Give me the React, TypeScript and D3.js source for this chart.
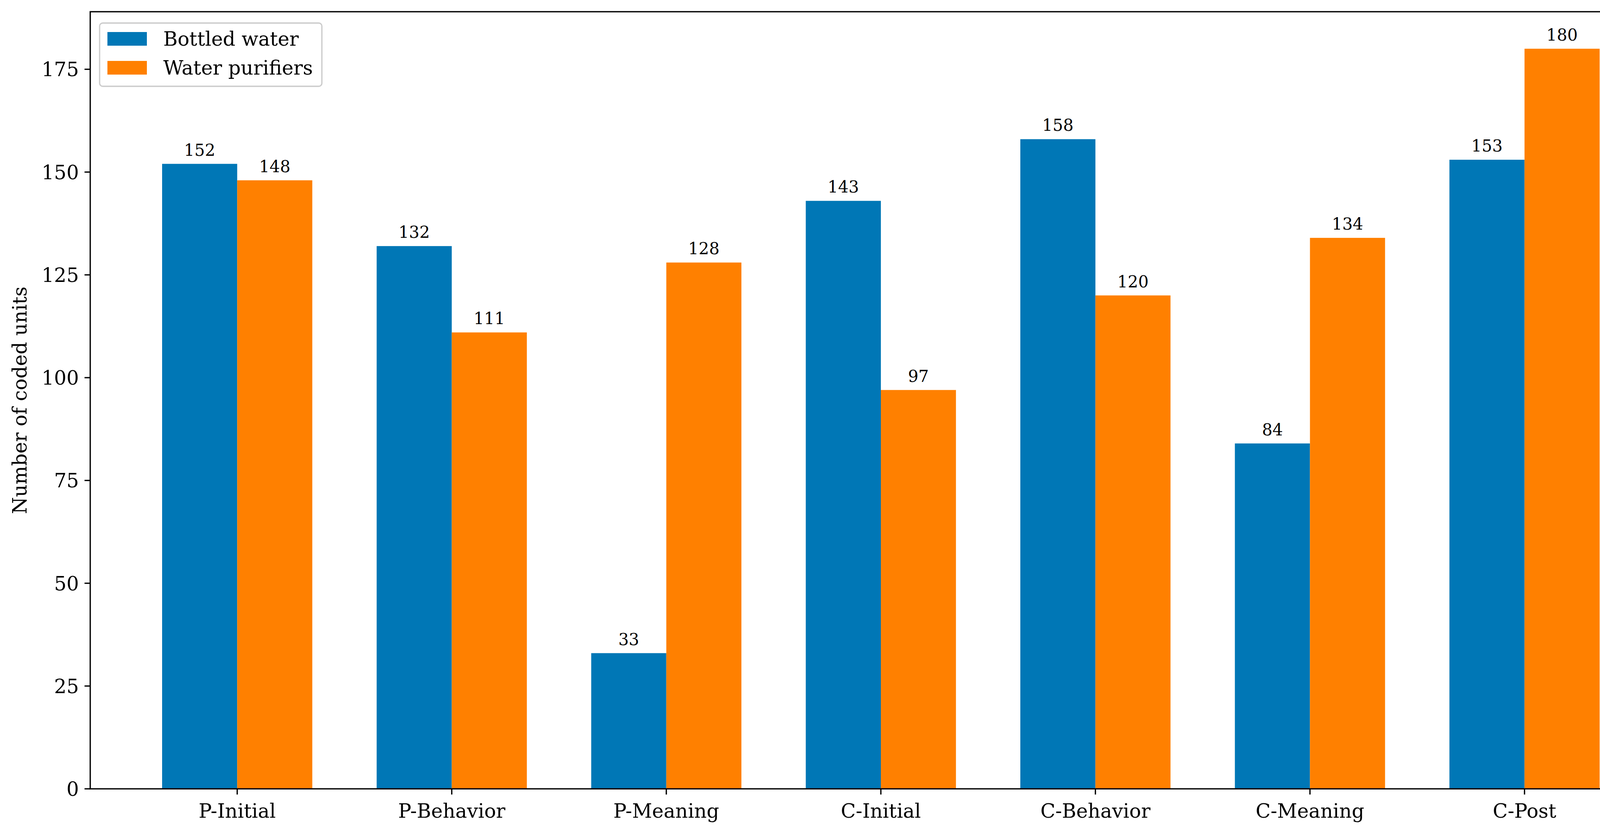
import React from 'react';
import * as d3 from 'd3';

const categories = ['P-Initial', 'P-Behavior', 'P-Meaning', 'C-Initial', 'C-Behavior', 'C-Meaning', 'C-Post'];
const bottledWater = [152, 132, 33, 143, 158, 84, 153];
const waterPurifiers = [148, 111, 128, 97, 120, 134, 180];
const yTicks = [0, 25, 50, 75, 100, 125, 150, 175];
const seriesNames = ['Bottled water', 'Water purifiers'];

const W = 4302;
const H = 2128;
const margin = { left: 231, right: 4279, top: 30, bottom: 2020 };
const BLUE = '#0077b6';
const ORANGE = '#ff8000';
const FONT = '"DejaVu Serif", serif';
const barW = 0.35;

const App: React.FC = () => {
  const x = d3.scaleLinear().domain([-0.685, 6.685]).range([margin.left, margin.right]);
  const y = d3.scaleLinear().domain([0, 189]).range([margin.bottom, margin.top]);
  const series = [
    { name: seriesNames[0], values: bottledWater, color: BLUE, offset: -barW / 2 },
    { name: seriesNames[1], values: waterPurifiers, color: ORANGE, offset: barW / 2 },
  ];
  const pxW = x(barW) - x(0);

  return (
    <svg width={W} height={H} style={{ position: 'absolute', left: 0, top: 0, background: '#fff' }}>
      <rect x={0} y={0} width={W} height={H} fill="#fff" />
      {series.map((s) =>
        s.values.map((v, i) => {
          const cx = x(i + s.offset);
          return (
            <g key={s.name + i}>
              <rect x={cx - pxW / 2} y={y(v)} width={pxW} height={y(0) - y(v)} fill={s.color} />
              <text x={cx} y={y(v) - 21} textAnchor="middle" fontFamily={FONT} fontSize={42} fill="#000">
                {v}
              </text>
            </g>
          );
        })
      )}
      {/* y axis ticks */}
      {yTicks.map((t) => (
        <g key={'y' + t}>
          <line x1={margin.left - 14.6} x2={margin.left} y1={y(t)} y2={y(t)} stroke="#000" strokeWidth={3.3} />
          <text x={margin.left - 29} y={y(t)} dy="0.36em" textAnchor="end" fontFamily={FONT} fontSize={50}>
            {t}
          </text>
        </g>
      ))}
      {/* x axis ticks */}
      {categories.map((c, i) => (
        <g key={c}>
          <line x1={x(i)} x2={x(i)} y1={margin.bottom} y2={margin.bottom + 14.6} stroke="#000" strokeWidth={3.3} />
          <text x={x(i)} y={2094} textAnchor="middle" fontFamily={FONT} fontSize={50}>
            {c}
          </text>
        </g>
      ))}
      <text
        transform={`translate(68, ${(margin.top + margin.bottom) / 2}) rotate(-90)`}
        textAnchor="middle"
        fontFamily={FONT}
        fontSize={50}
      >
        Number of coded units
      </text>
      <rect
        x={margin.left}
        y={margin.top}
        width={margin.right - margin.left}
        height={margin.bottom - margin.top}
        fill="none"
        stroke="#000"
        strokeWidth={3.3}
      />
      {/* legend */}
      <g>
        <rect x={255} y={59} width={569} height={162} rx={8} fill="#fff" fillOpacity={0.8} stroke="#cccccc" strokeWidth={3.3} />
        {series.map((s, i) => (
          <g key={'lg' + s.name}>
            <rect x={275} y={82 + i * 74} width={101} height={35} fill={s.color} />
            <text x={418} y={117 + i * 74} fontFamily={FONT} fontSize={50}>
              {s.name}
            </text>
          </g>
        ))}
      </g>
    </svg>
  );
};

export default App;
